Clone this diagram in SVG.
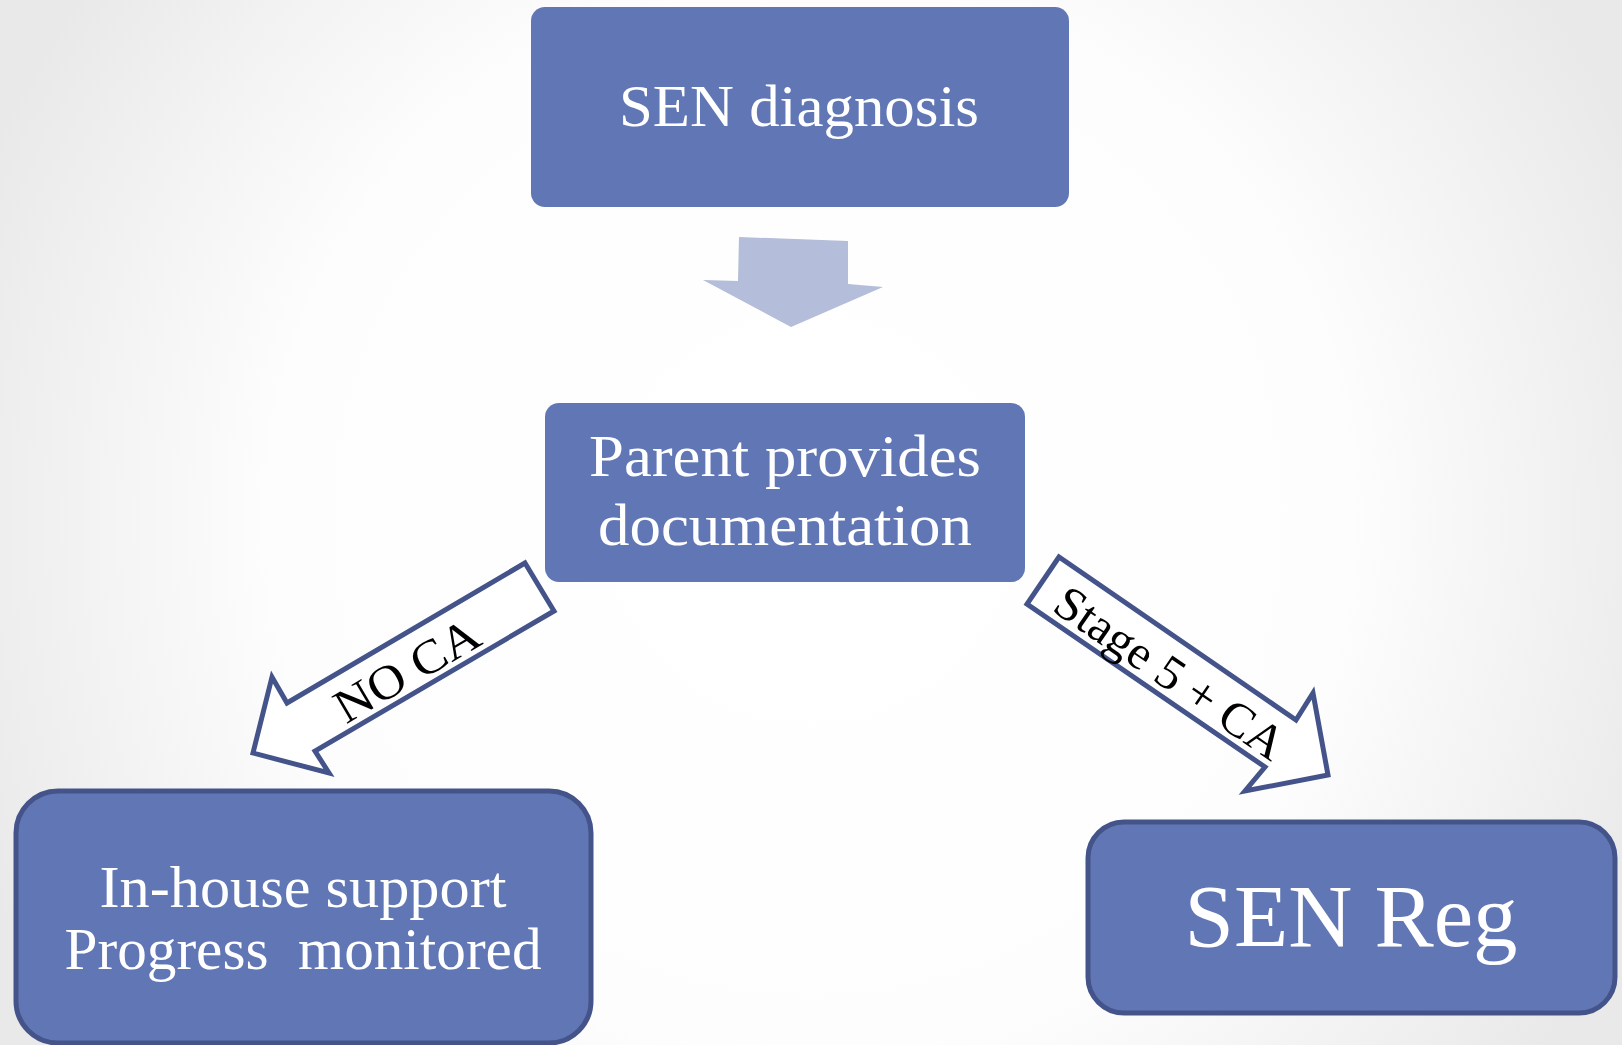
<svg xmlns="http://www.w3.org/2000/svg" width="1622" height="1045" viewBox="0 0 1622 1045">
  <defs>
    <radialGradient id="bg" cx="811" cy="520" r="900" gradientUnits="userSpaceOnUse">
      <stop offset="0" stop-color="#ffffff"/>
      <stop offset="0.6" stop-color="#fdfdfd"/>
      <stop offset="1" stop-color="#e9e9e9"/>
    </radialGradient>
    <style>
      .box { fill: #6176b4; }
      .boxs { fill: #6176b4; stroke: #44548a; stroke-width: 5; }
      .lbl { font-family: "Liberation Serif", "Times New Roman", serif; fill: #ffffff; text-anchor: middle; }
      .arr { fill: #ffffff; stroke: #44548a; stroke-width: 5; stroke-linejoin: miter; }
      .alb { font-family: "Liberation Serif", "Times New Roman", serif; fill: #000000; text-anchor: middle; font-size: 48px; }
    </style>
  </defs>
  <rect x="0" y="0" width="1622" height="1045" fill="url(#bg)"/>

  <g id="connectors">
    <polygon id="arrow-down" points="739,237 848,241 848,284 883,287 791,327 703,280 738,281" fill="#b4bdd9"/>
    <g id="arrow-noca">
      <polygon class="arr" points="525,563 554,611 315,751 329,773 253,753 272,677 287,703"/>
      <text class="alb" transform="translate(415,684) rotate(-30.5)" textLength="160" lengthAdjust="spacingAndGlyphs">NO CA</text>
    </g>
    <g id="arrow-stage">
      <polygon class="arr" points="1059,557 1027,604 1265,767 1245,791 1328,775 1313,693 1296,720"/>
      <text class="alb" transform="translate(1161,686) rotate(34.5)" textLength="268" lengthAdjust="spacingAndGlyphs">Stage 5 + CA</text>
    </g>
  </g>

  <g id="node-sen-diagnosis">
    <rect class="box" x="531" y="7" width="538" height="200" rx="14" ry="14"/>
    <text class="lbl" x="799" y="126" font-size="60" textLength="360" lengthAdjust="spacingAndGlyphs">SEN diagnosis</text>
  </g>

  <g id="node-parent">
    <rect class="box" x="545" y="403" width="480" height="179" rx="14" ry="14"/>
    <text class="lbl" x="785" y="476" font-size="60" textLength="392" lengthAdjust="spacingAndGlyphs">Parent provides</text>
    <text class="lbl" x="785" y="545" font-size="60" textLength="374" lengthAdjust="spacingAndGlyphs">documentation</text>
  </g>

  <g id="node-inhouse">
    <rect class="boxs" x="16" y="791" width="575" height="252" rx="42" ry="42"/>
    <text class="lbl" x="303" y="907" font-size="60" textLength="407" lengthAdjust="spacingAndGlyphs">In-house support</text>
    <text class="lbl" x="303" y="969" font-size="60" textLength="477" lengthAdjust="spacingAndGlyphs" xml:space="preserve">Progress  monitored</text>
  </g>

  <g id="node-sen-reg">
    <rect class="boxs" x="1088" y="822" width="527" height="191" rx="36" ry="36"/>
    <text class="lbl" x="1351" y="946" font-size="88" textLength="333" lengthAdjust="spacingAndGlyphs">SEN Reg</text>
  </g>
</svg>
